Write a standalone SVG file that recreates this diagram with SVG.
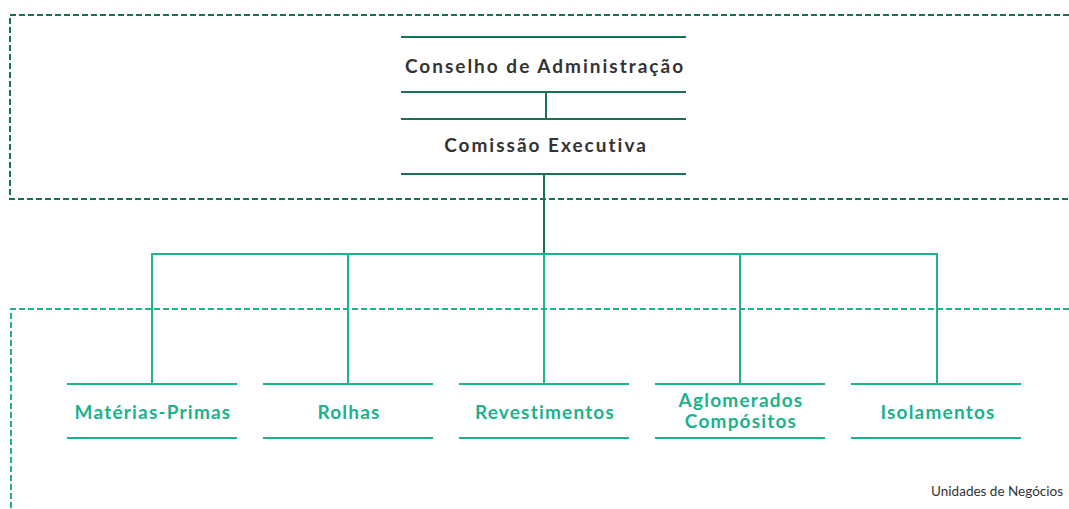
<svg xmlns="http://www.w3.org/2000/svg" width="1069" height="509" viewBox="0 0 1069 509">
<style>
.dk{stroke:#17734f;stroke-width:2;fill:none}
.tl{stroke:#1bb28c;stroke-width:2;fill:none}
.dash1{stroke:#17734f;stroke-width:2;fill:none;stroke-dasharray:6 3}
.dash2{stroke:#1bb28c;stroke-width:2;fill:none;stroke-dasharray:6 3}
.h{font-family:Lato,"Liberation Sans",sans-serif;font-weight:bold;font-size:19px;fill:#333333;letter-spacing:2px;text-anchor:middle}
.u{font-family:Lato,"Liberation Sans",sans-serif;font-weight:bold;font-size:19px;fill:#1bb28c;text-anchor:middle;letter-spacing:1.2px}
.s{font-family:Lato,"Liberation Sans",sans-serif;font-size:13.5px;fill:#333333;text-anchor:end}
</style>
<rect width="1069" height="509" fill="#ffffff"/>
<g id="frames">
<path class="dash1" d="M1069 15 H10 V199 H1069"/>
<path class="dash2" d="M1069 309 H11 V509"/>
</g>
<g id="connectors">
<line class="dk" x1="546" y1="92" x2="546" y2="119"/>
<line class="dk" x1="544" y1="174" x2="544" y2="254"/>
<path class="tl" d="M152 384 V254 H937 V384"/>
<line class="tl" x1="348" y1="254" x2="348" y2="384"/>
<line class="tl" x1="544" y1="254" x2="544" y2="384"/>
<line class="tl" x1="740" y1="254" x2="740" y2="384"/>
</g>
<g id="conselho">
<line class="dk" x1="401" y1="37" x2="686" y2="37"/>
<line class="dk" x1="401" y1="92" x2="686" y2="92"/>
<text class="h" x="545" y="73">Conselho de Administração</text>
</g>
<g id="comissao">
<line class="dk" x1="401" y1="119" x2="686" y2="119"/>
<line class="dk" x1="401" y1="174" x2="686" y2="174"/>
<text class="h" x="546" y="152">Comissão Executiva</text>
</g>
<g id="materias">
<line class="tl" x1="67" y1="384" x2="237" y2="384"/>
<line class="tl" x1="67" y1="438" x2="237" y2="438"/>
<text class="u" x="153" y="419">Matérias-Primas</text>
</g>
<g id="rolhas">
<line class="tl" x1="263" y1="384" x2="433" y2="384"/>
<line class="tl" x1="263" y1="438" x2="433" y2="438"/>
<text class="u" x="349" y="419">Rolhas</text>
</g>
<g id="revestimentos">
<line class="tl" x1="459" y1="384" x2="629" y2="384"/>
<line class="tl" x1="459" y1="438" x2="629" y2="438"/>
<text class="u" x="545" y="419">Revestimentos</text>
</g>
<g id="aglomerados">
<line class="tl" x1="655" y1="384" x2="825" y2="384"/>
<line class="tl" x1="655" y1="438" x2="825" y2="438"/>
<text class="u" x="741" y="407">Aglomerados</text>
<text class="u" x="741" y="428">Compósitos</text>
</g>
<g id="isolamentos">
<line class="tl" x1="851" y1="384" x2="1021" y2="384"/>
<line class="tl" x1="851" y1="438" x2="1021" y2="438"/>
<text class="u" x="938" y="419">Isolamentos</text>
</g>
<text class="s" x="1063" y="496">Unidades de Negócios</text>
</svg>
